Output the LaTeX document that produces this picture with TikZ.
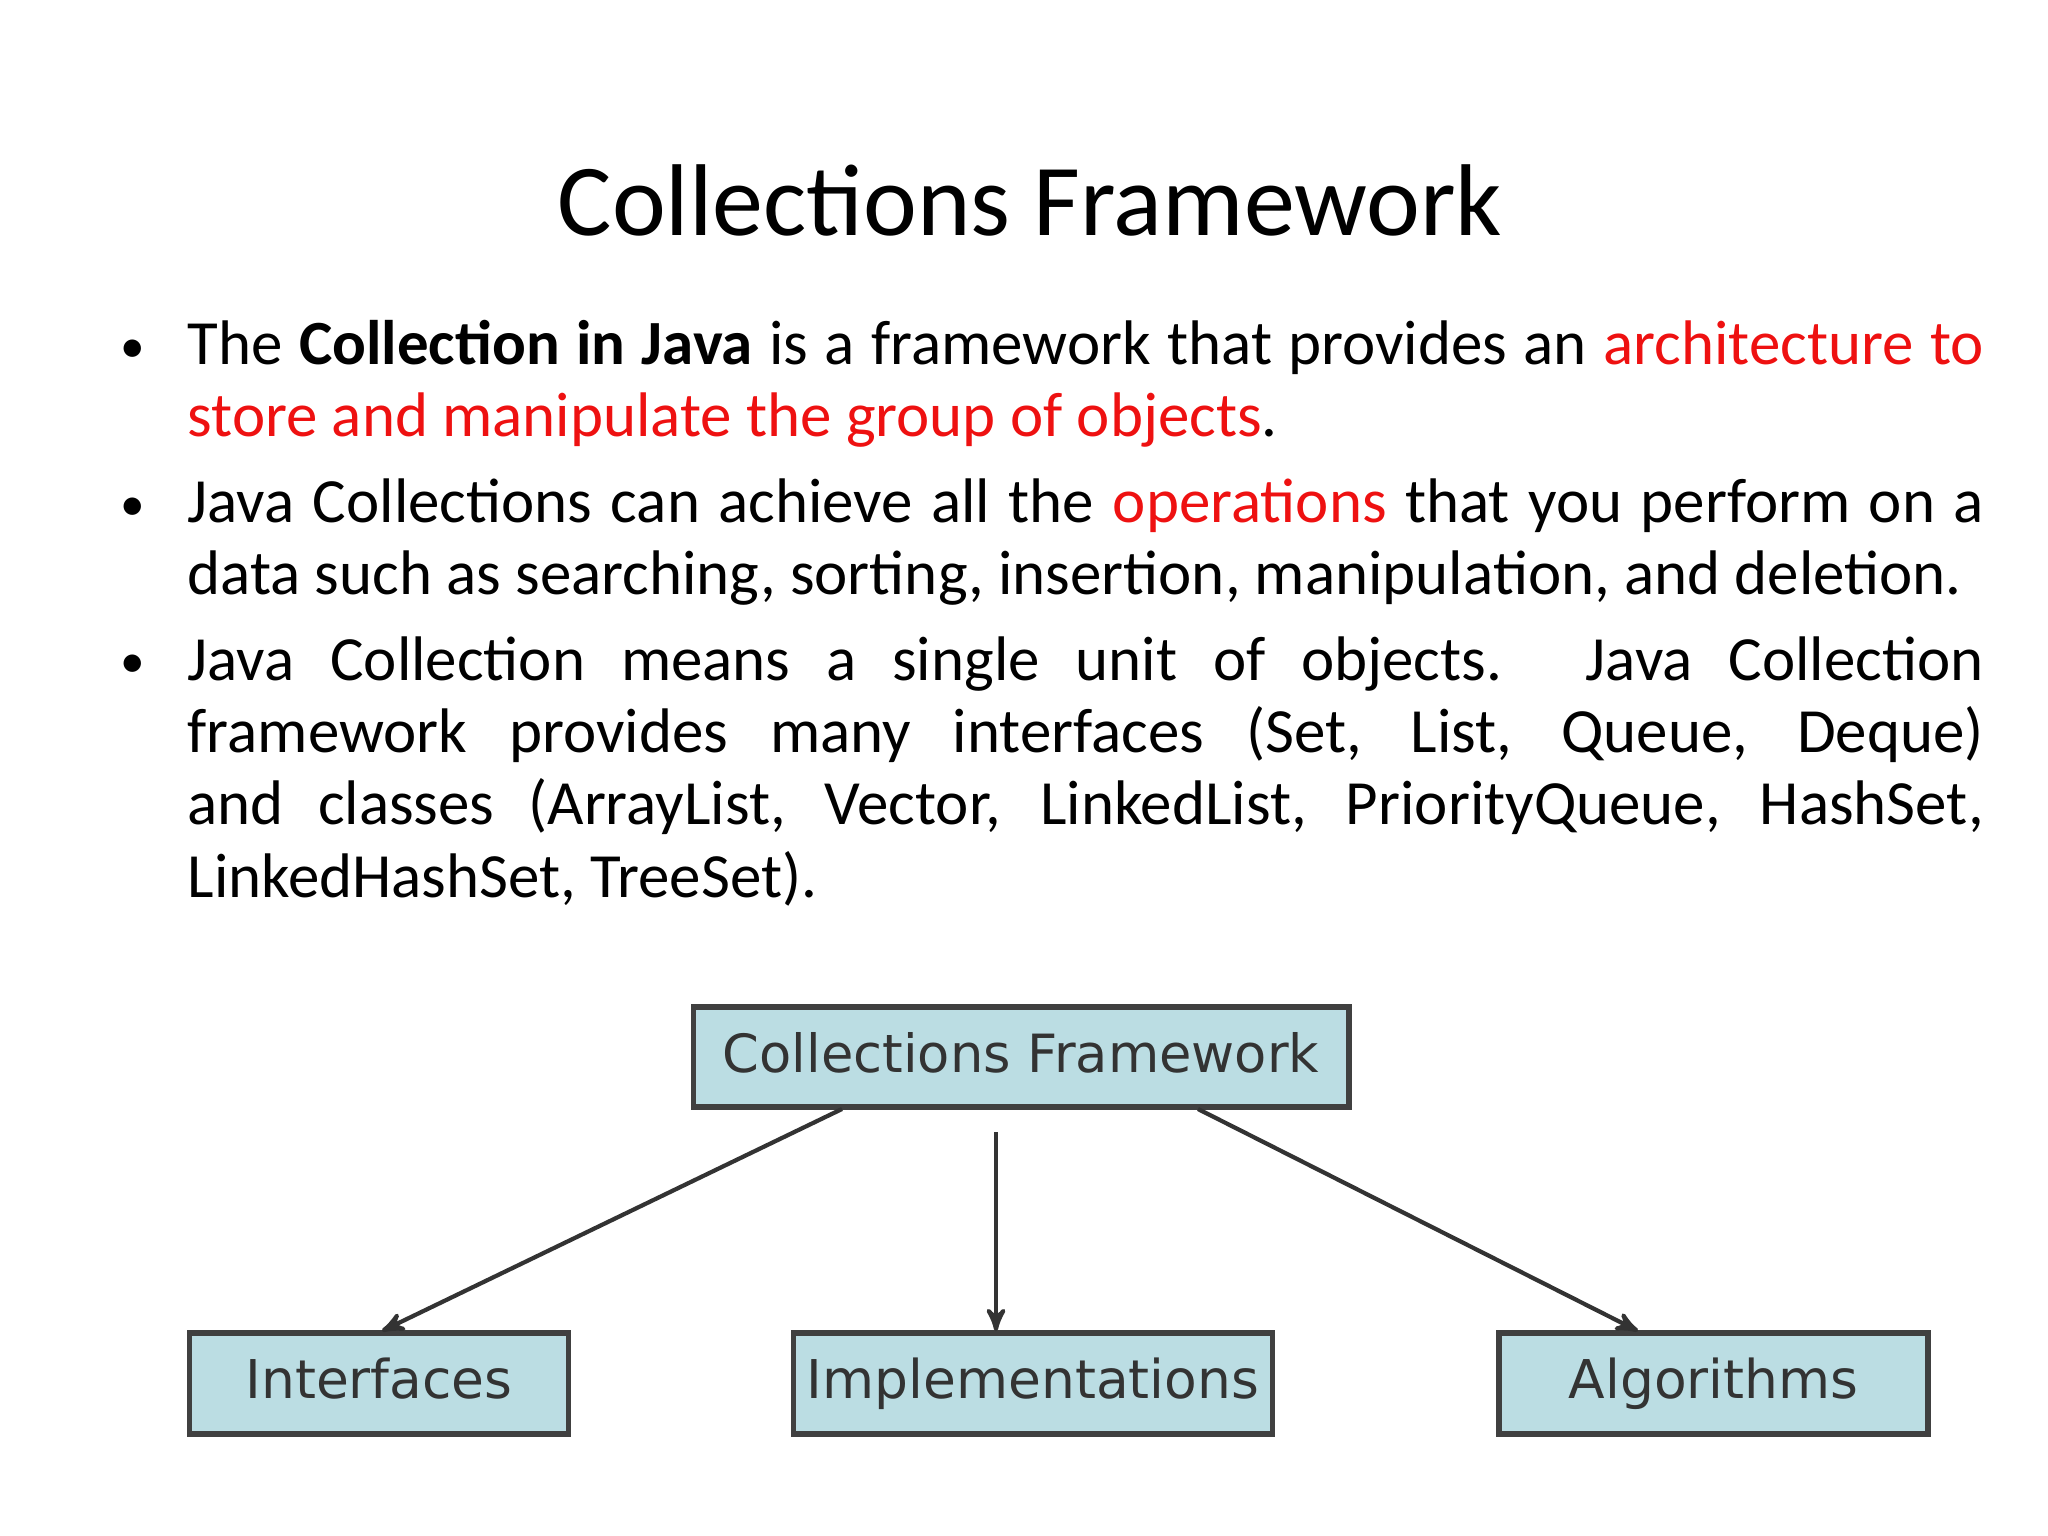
\documentclass[tikz,border=0pt]{standalone}
\usepackage{fontspec}
\setmainfont{Carlito}
\newfontfamily\boxfont{DejaVu Sans}
\usetikzlibrary{arrows}
\definecolor{boxblue}{HTML}{BBDDE3}
\definecolor{hired}{HTML}{EE1111}
\hyphenpenalty=10000
\exhyphenpenalty=10000
\begin{document}
\begin{tikzpicture}[x=0.01cm,y=-0.01cm,>=stealth',
  every node/.style={inner sep=0pt},
  fwbox/.style={draw=black!75,line width=1.6pt,fill=boxblue,
    font=\boxfont\fontsize{15.2}{17}\selectfont,text=black!80,
    text height=0.4cm,text depth=0.1cm},
  link/.style={->,draw=black!80,line width=1.2pt},
  bulletmark/.style={anchor=base west,font=\fontsize{14}{16}\selectfont},
  bullettext/.style={anchor=base west,text width=17.95cm,align=justify,
    font=\fontsize{17.9}{20.6}\selectfont}]
  \useasboundingbox (0,0) rectangle (2048,1536);

  \node (title) at (1030,200) {\fontsize{29}{32}\selectfont Collections Framework};

  % bullets
  \node[bulletmark] (b1) at (120,362) {\textbullet};
  \node[bulletmark] (b2) at (120,520) {\textbullet};
  \node[bulletmark] (b3) at (120,677.5) {\textbullet};

  \node[bullettext] (t1) at (187,364.5) {The \textbf{Collection in Java} is a framework that provides an \textcolor{hired}{architecture to store and manipulate the group of objects}.};
  \node[bullettext] (t2) at (187,522.5) {Java Collections can achieve all the \textcolor{hired}{operations} that you perform on a data such as searching, sorting, insertion, manipulation, and deletion.};
  \node[bullettext] (t3) at (187,680) {Java Collection means a single unit of objects. Java Collection framework provides many interfaces (Set, List, Queue, Deque) and classes (ArrayList, Vector, LinkedList, PriorityQueue, HashSet, LinkedHashSet, TreeSet).};

  % diagram
  \node[fwbox,minimum width=6.55cm,minimum height=1cm] (cf) at (1021,1057)
    {\resizebox{5.96cm}{!}{Collections Framework}};
  \node[fwbox,minimum width=3.79cm,minimum height=1.01cm] (intf) at (379,1383.5) {Interfaces};
  \node[fwbox,minimum width=4.79cm,minimum height=1.01cm] (impl) at (1033,1383.5) {Implementations};
  \node[fwbox,minimum width=4.29cm,minimum height=1.01cm] (algo) at (1713.5,1383.5) {Algorithms};

  \coordinate (cfl) at (842,1109);
  \coordinate (cfm) at (996,1132);
  \coordinate (cfr) at (1198,1109);
  \draw[link] (cfl) -- (382,1331);
  \draw[link] (cfm) -- (996,1331);
  \draw[link] (cfr) -- (1638,1331);
\end{tikzpicture}
\end{document}
